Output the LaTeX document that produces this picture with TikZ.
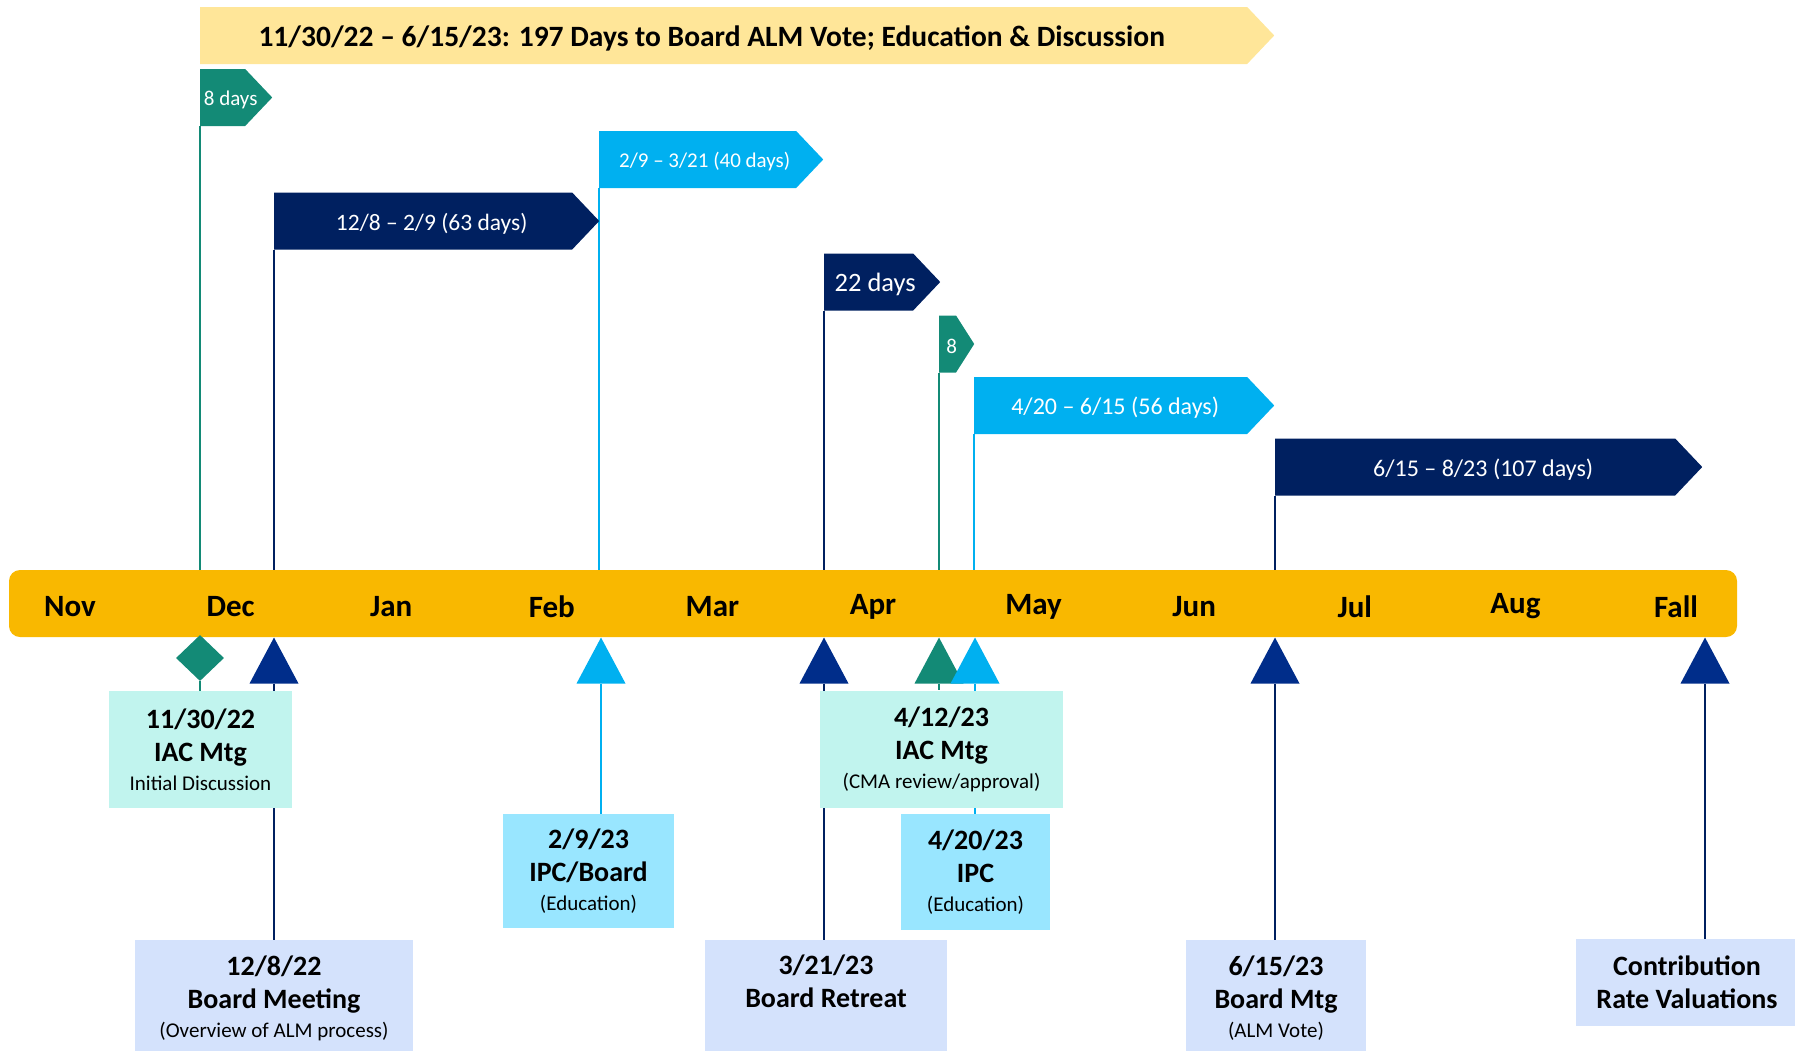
\documentclass[tikz,border=0pt]{standalone}
\usepackage{fontspec}
\setmainfont{Carlito}
\usetikzlibrary{shapes.geometric,shapes.symbols,positioning}
\definecolor{navy}{HTML}{002060}
\definecolor{skyblue}{HTML}{00B0F0}
\definecolor{tealgreen}{HTML}{138A76}
\definecolor{bannery}{HTML}{FFE699}
\definecolor{baramber}{HTML}{F9B800}
\definecolor{triblue}{HTML}{002D8A}
\definecolor{mintbox}{HTML}{C1F4EE}
\definecolor{skybox}{HTML}{99E6FF}
\definecolor{lavbox}{HTML}{D4E2FC}
\pgfdeclarelayer{background}
\pgfsetlayers{background,main}
\tikzset{pennant/.style={signal,signal to=east,signal pointer angle=93,inner sep=0pt,minimum height=57pt,text=white,anchor=west},
  tri/.style={isosceles triangle,isosceles triangle stretches,shape border rotate=90,minimum width=49pt,minimum height=46pt,inner sep=0pt,anchor=apex},
  evbox/.style={rectangle,inner sep=0pt,align=center,font=\fontsize{28}{33}\selectfont\bfseries},
  month/.style={font=\fontsize{31}{31}\selectfont\bfseries},
  link/.style={line width=1.2pt}}
\newcommand{\subline}[1]{\\[-4pt]{\mdseries\fontsize{21}{25}\selectfont #1}}
\newcommand{\ptext}[2]{\makebox[0pt]{\hspace*{#1}\raisebox{-2.5pt}[\height][\depth]{#2}}}

\begin{document}
\begin{tikzpicture}[x=1pt,y=-1pt]
        \useasboundingbox (0,0) rectangle (1795,1050);

        % periods above the bar
        \node[pennant,fill=bannery,text=black,minimum width=1074pt,font=\fontsize{29.5}{30}\selectfont\bfseries] (top) at (200,35.5) {\ptext{-24pt}{11/30/22 – 6/15/23: 197 Days to Board ALM Vote; Education \& Discussion}};
        \node[pennant,fill=tealgreen,minimum width=72pt,font=\fontsize{21}{21}\selectfont] (p8d) at (200,97.5) {\ptext{16pt}{8 days}};
        \node[pennant,fill=skyblue,minimum width=224pt,font=\fontsize{21}{21}\selectfont] (p40) at (599,159.5) {\ptext{14pt}{2/9 – 3/21 (40 days)}};
        \node[pennant,fill=navy,minimum width=325pt,font=\fontsize{23.5}{24}\selectfont] (p63) at (274,221) {\ptext{17pt}{12/8 – 2/9 (63 days)}};
        \node[pennant,fill=navy,minimum width=116pt,font=\fontsize{26.5}{27}\selectfont] (p22) at (824,282) {\ptext{13pt}{22 days}};
        \node[pennant,fill=tealgreen,minimum width=35pt,signal pointer angle=115,font=\fontsize{21}{21}\selectfont] (p8) at (939,344) {\ptext{8pt}{8}};
        \node[pennant,fill=skyblue,minimum width=300pt,font=\fontsize{24}{24}\selectfont] (p56) at (974,405.5) {\ptext{9pt}{4/20 – 6/15 (56 days)}};
        \node[pennant,fill=navy,minimum width=427pt,font=\fontsize{24}{24}\selectfont] (p107) at (1275,467) {\ptext{16pt}{6/15 – 8/23 (107 days)}};

        % the bar
        \node[rectangle,fill=baramber,rounded corners=11pt,minimum width=1728pt,minimum height=67pt] (bar) at (873,603.5) {};
        \foreach \m [count=\i from 0] in {Nov,Dec,Jan,Feb,Mar,Apr,May,Jun,Jul,Aug,Fall}
            \node[month] (m\i) at (70+160.6*\i,606.5) {\m};

        % markers
        \node[diamond,fill=tealgreen,minimum width=48pt,minimum height=46pt,inner sep=0pt] (dm1) at (200,658) {};
        \node[tri,fill=triblue] (t2) at (274,637) {};
        \node[tri,fill=skyblue] (t3) at (601,637) {};
        \node[tri,fill=triblue] (t4) at (824,637) {};
        \node[tri,fill=tealgreen] (t5) at (939,637) {};
        \node[tri,fill=skyblue] (t6) at (975,637) {};
        \node[tri,fill=triblue] (t7) at (1275,637) {};
        \node[tri,fill=triblue] (t8) at (1705,637) {};

        % events
        \node[evbox,fill=mintbox,minimum width=183pt,minimum height=117pt] (b1) at (200.5,749.5) {11/30/22\\IAC Mtg\subline{Initial Discussion}};
        \node[evbox,fill=lavbox,minimum width=278pt,minimum height=116pt] (b2) at (274,998) {12/8/22\\Board Meeting\subline{(Overview of ALM process)}};
        \node[evbox,fill=skybox,minimum width=171pt,minimum height=114pt] (b3) at (588.5,871) {2/9/23\\IPC/Board\subline{(Education)}};
        \node[evbox,fill=lavbox,minimum width=242pt,minimum height=118pt] (b4) at (826,999) {3/21/23\\Board Retreat\subline{\strut}};
        \node[evbox,fill=mintbox,minimum width=243pt,minimum height=117pt] (b5) at (941.5,749) {4/12/23\\IAC Mtg\subline{(CMA review/approval)}};
        \node[evbox,fill=skybox,minimum width=149pt,minimum height=116pt] (b6) at (975.5,872) {4/20/23\\IPC\subline{(Education)}};
        \node[evbox,fill=lavbox,minimum width=180pt,minimum height=116pt] (b7) at (1276,998) {6/15/23\\Board Mtg\subline{(ALM Vote)}};
        \node[evbox,fill=lavbox,minimum width=222pt,minimum height=87pt] (b8) at (1687,982.5) {Contribution\\Rate Valuations};

        \begin{pgfonlayer}{background}
        \draw[link,tealgreen] (p8d.west |- p8d.south) -- (p8d.west |- bar.north);
        \draw[link,navy] (p63.west |- p63.south) -- (p63.west |- bar.north);
        \draw[link,skyblue] (p40.west |- p40.south) -- (p40.west |- bar.north);
        \draw[link,navy] (p22.west |- p22.south) -- (p22.west |- bar.north);
        \draw[link,tealgreen] (p8.west |- p8.south) -- (p8.west |- bar.north);
        \draw[link,skyblue] (p56.west |- p56.south) -- (p56.west |- bar.north);
        \draw[link,navy] (p107.west |- p107.south) -- (p107.west |- bar.north);

        \draw[link,tealgreen] (dm1.south) -- (dm1.south |- b1.north);
        \draw[link,navy] (t2.south) -- (t2.south |- b2.north);
        \draw[link,skyblue] (t3.south) -- (t3.south |- b3.north);
        \draw[link,navy] (t4.south) -- (t4.south |- b4.north);
        \draw[link,tealgreen] (t5.south) -- (t5.south |- b5.north);
        \draw[link,skyblue] (t6.south) -- (t6.south |- b6.north);
        \draw[link,navy] (t7.south) -- (t7.south |- b7.north);
        \draw[link,navy] (t8.south) -- (t8.south |- b8.north);
        \end{pgfonlayer}
    \end{tikzpicture}
\end{document}
